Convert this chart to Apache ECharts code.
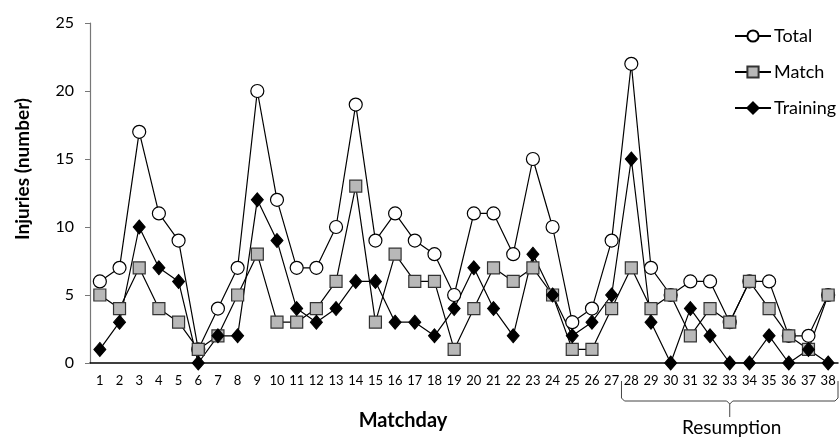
<!DOCTYPE html>
<html>
<head>
<meta charset="utf-8">
<script src="https://cdn.jsdelivr.net/npm/echarts@6/dist/echarts.min.js"></script>
<style>
html,body{margin:0;padding:0;background:#fff;}
#main{width:840px;height:437px;}
</style>
</head>
<body>
<div id="main"></div>
<script>
var matchdays = ['1','2','3','4','5','6','7','8','9','10','11','12','13','14','15','16','17','18','19','20','21','22','23','24','25','26','27','28','29','30','31','32','33','34','35','36','37','38'];
var total    = [6,7,17,11,9,1,4,7,20,12,7,7,10,19,9,11,9,8,5,11,11,8,15,10,3,4,9,22,7,5,6,6,3,6,6,2,2,5];
var matchInj = [5,4,7,4,3,1,2,5,8,3,3,4,6,13,3,8,6,6,1,4,7,6,7,5,1,1,4,7,4,5,2,4,3,6,4,2,1,5];
var training = [1,3,10,7,6,0,2,2,12,9,4,3,4,6,6,3,3,2,4,7,4,2,8,5,2,3,5,15,3,0,4,2,0,0,2,0,1,0];
var yTicks = [0,5,10,15,20,25];
var resumptionStart = '28';
var resumptionEnd = '38';

var FONT = 'Lato';
var chart = echarts.init(document.getElementById('main'), null, {renderer:'canvas'});
var option = {
  animation: false,
  backgroundColor: '#fff',
  grid: {left: 90, right: 2, top: 23, bottom: 74, containLabel: false},
  legend: {
    orient: 'vertical', left: 729, top: 22,
    itemWidth: 36, itemHeight: 14, itemGap: 18,
    textStyle: {fontFamily: FONT, fontSize: 18, color: '#000', padding: [0,0,0,-2]},
    data: ['Total','Match','Training']
  },
  xAxis: {
    type: 'category', data: matchdays, boundaryGap: true,
    axisLine: {lineStyle: {color: '#000', width: 1.5}},
    axisTick: {alignWithLabel: true, length: 4, lineStyle: {color: '#000'}},
    axisLabel: {fontFamily: FONT, fontSize: 13, color: '#000', margin: 11, interval: 0}
  },
  yAxis: {
    type: 'value', min: yTicks[0], max: yTicks[yTicks.length-1], interval: 5,
    splitLine: {show: false},
    axisLine: {show: true, lineStyle: {color: '#777', width: 1.2}},
    axisTick: {show: true, length: 5, lineStyle: {color: '#777'}},
    axisLabel: {fontFamily: FONT, fontSize: 16, color: '#000', margin: 16}
  },
  series: [
    {name: 'Total', type: 'line', data: total, symbol: 'circle', symbolSize: 13,
     lineStyle: {color: '#000', width: 1.2}, itemStyle: {color: '#fff', borderColor: '#000', borderWidth: 1.2}},
    {name: 'Match', type: 'line', data: matchInj, symbol: 'rect', symbolSize: 12,
     lineStyle: {color: '#000', width: 1.2}, itemStyle: {color: '#b8b8b8', borderColor: '#333', borderWidth: 1.2}},
    {name: 'Training', type: 'line', data: training, symbol: 'diamond', symbolSize: [12,14],
     lineStyle: {color: '#000', width: 1.2}, itemStyle: {color: '#000', borderColor: '#000', borderWidth: 1}}
  ]
};
chart.setOption(option);

function addAnnotations(){
  var x0 = chart.convertToPixel({xAxisIndex:0}, resumptionStart);
  var x1 = chart.convertToPixel({xAxisIndex:0}, resumptionEnd);
  var step = (x1 - x0) / (matchdays.indexOf(resumptionEnd) - matchdays.indexOf(resumptionStart));
  var left = x0 - step/2, right = x1 + step/2, mid = (left + right)/2;
  var top = 381, base = 401, tip = 417;
  chart.setOption({
    graphic: [
      {type: 'polyline', shape: {points: [[left, top],[left, base-3],[left+3, base],[mid-3, base],[mid, base+3],[mid, tip]]},
       style: {stroke: '#444', lineWidth: 1, fill: null}},
      {type: 'polyline', shape: {points: [[right, top],[right, base-3],[right-3, base],[mid+3, base],[mid, base+3]]},
       style: {stroke: '#444', lineWidth: 1, fill: null}},
      {type: 'text', x: mid + 2, y: 428,
       style: {text: 'Resumption', fontFamily: FONT, fontSize: 19, fill: '#000', align: 'center', verticalAlign: 'middle'}},
      {type: 'text', x: 403, y: 421,
       style: {text: 'Matchday', fontFamily: FONT, fontSize: 20, fontWeight: 'bold', fill: '#000', align: 'center', verticalAlign: 'middle'}},
      {type: 'text', x: 23, y: 169, rotation: Math.PI/2,
       style: {text: 'Injuries (number)', fontFamily: FONT, fontSize: 19, fontWeight: 'bold', fill: '#000', align: 'center', verticalAlign: 'middle'}}
    ]
  });
}
addAnnotations();
</script>
</body>
</html>
